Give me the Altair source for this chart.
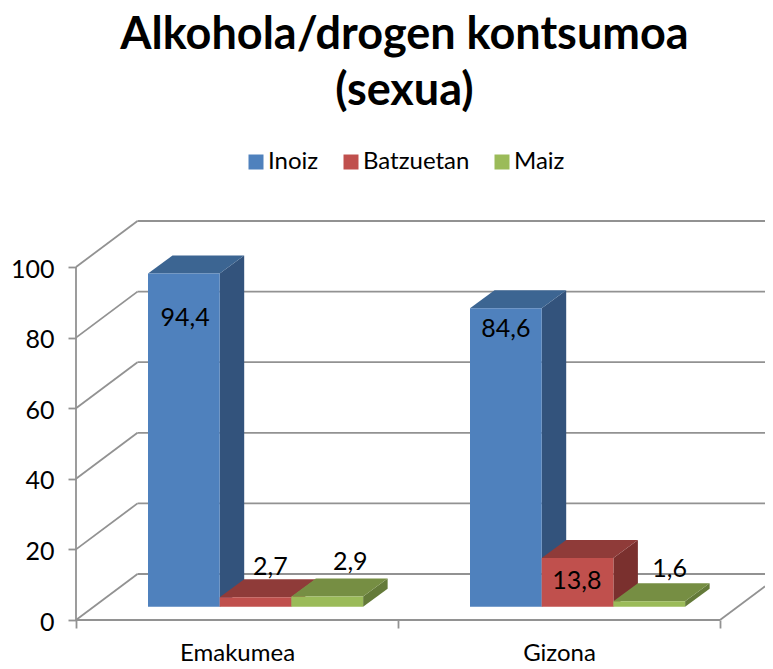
import altair as alt
import pandas as pd

# --- data ---
categories = ["Emakumea", "Gizona"]
series = ["Inoiz", "Batzuetan", "Maiz"]
inoiz = [94.4, 84.6]
batzuetan = [2.7, 13.8]
maiz = [2.9, 1.6]
values = [inoiz, batzuetan, maiz]
y_ticks = [0, 20, 40, 60, 80, 100]

# --- styles ---
front = ["#4F81BD", "#C0504D", "#9BBB59"]
topc = ["#3C6592", "#8F3B39", "#768E43"]
sidec = ["#33537C", "#7A302E", "#647A39"]
GRID = "#929292"
FONT = "Lato"

# --- layout constants (px converted into scale units) ---
PX_X, PX_Y = 322.0, 3.53
WIDTH, HEIGHT = 689, 412
XMAX, YMAX = WIDTH / PX_X, HEIGHT / PX_Y
WALL_DX, WALL_DY = 61.5 / PX_X, 46 / PX_Y
BAR_START, BAR_W = 72 / PX_X, 71.7 / PX_X
FLOOR = 13.2 / PX_Y
DEPTH_DX, DEPTH_DY = 24.5 / PX_X, 18 / PX_Y
label_dx = [[1.3, 0], [14.8, -0.7], [23, 20.4]]
label_dy = [[-44, -20.6], [30, -22.7], [35, 32.4]]

xs = alt.Scale(domain=[0, XMAX], range=[0, WIDTH], nice=False, zero=False)
ys = alt.Scale(domain=[0, YMAX], range=[HEIGHT, 0], nice=False, zero=False)
y_axis = alt.Axis(values=y_ticks, domain=False, grid=False, tickSize=8, tickWidth=1.8,
                  tickColor=GRID, labelFont=FONT, labelFontSize=25, labelColor="black",
                  labelPadding=14, labelOffset=2, orient="left")


def X(f, axis=None):
    return alt.X(f, type="quantitative", scale=xs, axis=axis, title=None)


def Y(f):
    return alt.Y(f, type="quantitative", scale=ys, axis=y_axis, title=None)


rows_f, rows_s, rows_t, rows_l = [], [], [], []
for s, name in enumerate(series):
    for c, cat in enumerate(categories):
        v = values[s][c]
        a = c + BAR_START + s * BAR_W
        b = a + BAR_W
        top = FLOOR + v
        bid = f"{s}-{c}"
        rows_f.append(dict(s=s, series=name, a=a, b=b, y0=FLOOR, y1=top))
        rows_s.append(dict(s=s, id=bid, hex=sidec[s], x=b, y0=FLOOR, y1=top))
        rows_s.append(dict(s=s, id=bid, hex=sidec[s], x=b + DEPTH_DX, y0=FLOOR + DEPTH_DY, y1=top + DEPTH_DY))
        rows_t.append(dict(s=s, id=bid, hex=topc[s], y=top, a=a, b=b))
        rows_t.append(dict(s=s, id=bid, hex=topc[s], y=top + DEPTH_DY, a=a + DEPTH_DX, b=b + DEPTH_DX))
        rows_l.append(dict(
            text=str(v).replace(".", ","),
            x=(a + b) / 2 + label_dx[s][c] / PX_X,
            y=top + label_dy[s][c] / PX_Y,
        ))
df_f, df_s, df_t = pd.DataFrame(rows_f), pd.DataFrame(rows_s), pd.DataFrame(rows_t)
df_l = pd.DataFrame(rows_l)

# --- walls and grid ---
grid_rows = []
for v in y_ticks:
    grid_rows.append(dict(x=0, x2=WALL_DX, y=v, y2=v + WALL_DY))
    grid_rows.append(dict(x=WALL_DX, x2=XMAX, y=v + WALL_DY, y2=v + WALL_DY))
grid_rows.append(dict(x=0, x2=0, y=0, y2=100))
grid_rows.append(dict(x=0, x2=2, y=0, y2=0))
grid_rows.append(dict(x=2, x2=XMAX, y=0, y2=(XMAX - 2) * PX_X / 61.5 * WALL_DY))
df_g = pd.DataFrame(grid_rows)

grid = alt.Chart(df_g).mark_rule(color=GRID, strokeWidth=1.8).encode(
    x=X("x"), x2="x2", y=Y("y"), y2="y2"
)

x_tick_layer = alt.Chart(pd.DataFrame({"v": [0, 1, 2]})).mark_point(opacity=0).encode(
    x=X("v", axis=alt.Axis(values=[0, 1, 2], domain=False, grid=False, tickSize=8, tickWidth=1.8,
                           tickColor=GRID, labels=False, orient="bottom")),
    y=alt.value(HEIGHT),
)

label_expr = f"datum.value < 1 ? '{categories[0]}' : '{categories[1]}'"
x_label_layer = alt.Chart(pd.DataFrame({"v": [0.5, 1.5]})).mark_point(opacity=0).encode(
    x=X("v", axis=alt.Axis(values=[0.5, 1.5], domain=False, grid=False, ticks=False, labelExpr=label_expr,
                           labelFont=FONT, labelFontSize=24, labelColor="black", labelPadding=21,
                           orient="bottom")),
    y=alt.value(HEIGHT),
)

color = alt.Color(
    "series:N",
    scale=alt.Scale(domain=series, range=front),
    legend=alt.Legend(
        title=None, orient="none", legendX=168, legendY=-58, direction="horizontal", columns=3,
        symbolType="square", symbolSize=225, symbolStrokeWidth=0, labelFont=FONT, labelFontSize=24,
        labelColor="black", columnPadding=20, labelOffset=0, padding=0,
    ),
)

layers = [grid, x_tick_layer, x_label_layer]
for s in range(3):
    side = alt.Chart(df_s[df_s.s == s]).mark_area(orient="vertical").encode(
        x=X("x"), y=Y("y0"), y2="y1", detail="id:N", color=alt.Color("hex:N", scale=None)
    )
    top = alt.Chart(df_t[df_t.s == s]).mark_area(orient="horizontal").encode(
        y=Y("y"), x=X("a"), x2="b", detail="id:N", color=alt.Color("hex:N", scale=None)
    )
    fr = alt.Chart(df_f[df_f.s == s]).mark_rect().encode(
        x=X("a"), x2="b", y=Y("y0"), y2="y1", color=color
    )
    layers += [side, top, fr]

labels = alt.Chart(df_l).mark_text(font=FONT, fontSize=25, color="black", baseline="middle", align="center").encode(
    x=X("x"), y=Y("y"), text="text:N"
)
layers.append(labels)

chart = (
    alt.layer(*layers)
    .resolve_axis(x="independent")
    .properties(
        width=WIDTH,
        height=HEIGHT,
        padding={"left": 68, "top": 200, "right": 0, "bottom": 41},
        autosize=alt.AutoSizeParams(type="none"),
        title=alt.TitleParams(
            text=["Alkohola/drogen kontsumoa", "(sexua)"],
            font=FONT, fontSize=45, fontWeight="bold", color="black",
            anchor="middle", dx=-16, lineHeight=56, offset=36,
        ),
    )
    .configure_view(stroke=None)
)

chart.save("out.html", embed_options={"renderer": "svg", "actions": False})
